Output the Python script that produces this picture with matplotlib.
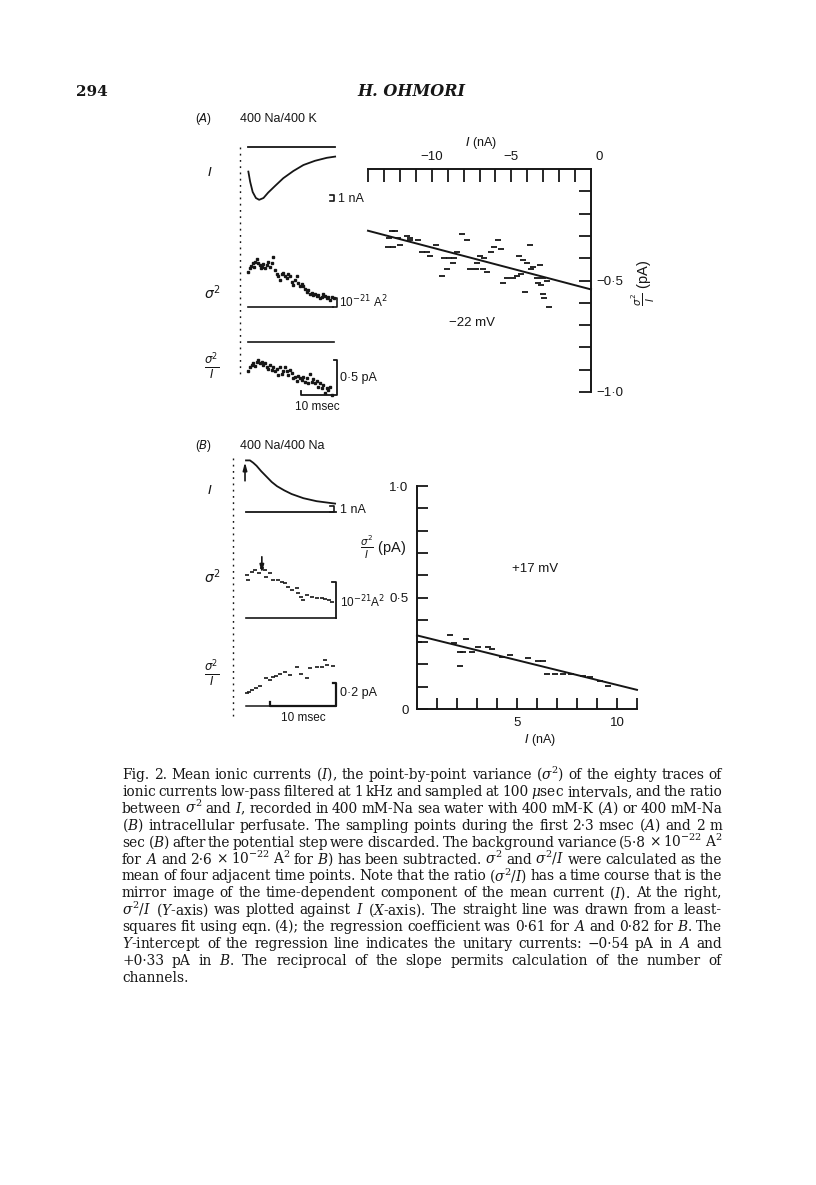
import matplotlib
matplotlib.use('Agg')
import matplotlib.pyplot as plt
import matplotlib.transforms as mtrans
import numpy as np

# ---------------- data ----------------
# Panel A (400 Na / 400 K), -22 mV : left traces (time in msec)
tA_I = [0.1, 0.6, 1.3, 2.2, 3.1, 4.3, 5.6, 7.5, 9.8, 12.6, 15.4, 18.6, 21.9, 24.2]
IA = [-4.1, -5.8, -7.5, -8.5, -8.8, -8.5, -7.6, -6.5, -5.2, -4.0, -3.0, -2.3, -1.8, -1.6]

tA_var = [0.1, 0.6, 0.8, 1.3, 1.7, 1.9, 2.4, 2.9, 3.3, 3.5, 4.0, 4.3, 4.7, 5.2, 5.6, 6.1, 6.6, 7.0,
          7.5, 8.0, 8.4, 8.9, 9.4, 9.8, 10.3, 10.7, 11.2, 11.7, 12.1, 12.6, 13.1, 13.5, 14.0, 14.4,
          14.9, 15.4, 15.8, 16.3, 16.8, 17.2, 17.7, 18.1, 18.6, 19.1, 19.5, 20.0, 20.5, 20.9, 21.4,
          21.9, 22.3, 22.8, 23.3, 23.9]
varA = [3.9, 4.3, 4.6, 4.9, 4.5, 5.0, 5.3, 4.9, 4.7, 4.3, 4.4, 4.8, 4.3, 4.7, 5.0, 4.5, 4.9, 5.6,
        4.1, 3.7, 3.4, 3.0, 3.7, 3.8, 3.4, 3.2, 3.7, 3.4, 2.8, 2.4, 3.0, 3.4, 2.7, 2.3, 2.6, 2.3,
        2.0, 1.7, 1.9, 1.5, 1.6, 1.3, 1.4, 1.2, 1.3, 1.0, 1.1, 1.4, 1.2, 1.0, 1.1, 0.8, 1.1, 1.0]

tA_ratio = [0.1, 0.6, 1.0, 1.5, 1.9, 2.4, 2.9, 3.3, 3.8, 4.3, 4.7, 5.2, 5.6, 6.1, 6.6, 7.0, 7.5,
            8.0, 8.4, 8.9, 9.4, 9.8, 10.3, 10.7, 11.2, 11.7, 12.1, 12.6, 13.1, 13.5, 14.0, 14.4,
            14.9, 15.4, 15.8, 16.3, 16.8, 17.2, 17.7, 18.1, 18.6, 19.1, 19.5, 20.0, 20.5, 20.9,
            21.4, 21.9, 22.3, 22.8, 23.3]
ratioA = [-0.42, -0.36, -0.33, -0.30, -0.34, -0.28, -0.26, -0.30, -0.28, -0.33, -0.30, -0.35,
          -0.38, -0.33, -0.40, -0.36, -0.42, -0.39, -0.47, -0.35, -0.45, -0.41, -0.36, -0.42,
          -0.47, -0.40, -0.44, -0.52, -0.50, -0.55, -0.49, -0.52, -0.54, -0.50, -0.57, -0.52,
          -0.59, -0.45, -0.57, -0.53, -0.59, -0.55, -0.64, -0.58, -0.65, -0.61, -0.73, -0.66,
          -0.69, -0.64, -0.76]

# Panel A right: sigma^2/I (pA) against I (nA)
xA = [-12.51, -12.31, -12.66, -12.10, -11.57, -11.36, -12.72, -12.45, -11.99, -11.36, -10.84,
      -10.63, -10.30, -10.11, -9.73, -9.38, -9.06, -9.20, -8.90, -8.60, -8.69, -8.43, -8.10,
      -7.81, -7.60, -7.20, -6.80, -7.18, -6.97, -6.72, -6.51, -6.30, -6.07, -5.86, -5.63, -5.50,
      -5.30, -4.92, -4.67, -4.40, -4.50, -4.25, -4.14, -4.04, -3.83, -3.79, -3.62, -3.41, -3.31,
      -3.20, -3.14, -3.04, -2.99, -2.93, -2.78, -2.62]
yA = [-0.28, -0.28, -0.31, -0.31, -0.30, -0.31, -0.35, -0.35, -0.34, -0.32, -0.32, -0.37, -0.37,
      -0.39, -0.34, -0.48, -0.45, -0.40, -0.40, -0.40, -0.42, -0.37, -0.29, -0.32, -0.45, -0.45,
      -0.45, -0.42, -0.39, -0.40, -0.46, -0.37, -0.35, -0.32, -0.36, -0.51, -0.49, -0.49, -0.48,
      -0.47, -0.39, -0.41, -0.55, -0.42, -0.34, -0.45, -0.44, -0.49, -0.51, -0.43, -0.52, -0.49,
      -0.56, -0.58, -0.50, -0.62]
fitA_intercept = -0.54
fitA_slope = -0.0188

# Panel B (400 Na / 400 Na), +17 mV : left traces
tB_I = [0.0, 0.6, 1.1, 1.6, 2.3, 3.1, 3.9, 4.7, 5.8, 6.9, 8.7, 10.7, 13.5]
IB = [8.6, 8.6, 8.2, 7.7, 6.8, 5.9, 5.0, 4.3, 3.6, 3.0, 2.3, 1.8, 1.4]

tB_var = [0.1, 0.35, 0.9, 1.4, 1.9, 2.4, 2.9, 3.1, 3.6, 4.1, 4.9, 5.4, 5.9, 6.4, 6.9, 7.7, 7.9,
          8.4, 8.7, 9.2, 10.0, 10.7, 11.5, 12.0, 12.5, 13.0]
varB = [1.19, 1.06, 1.29, 1.33, 1.24, 1.38, 1.33, 1.15, 1.24, 1.06, 1.06, 1.01, 0.96, 0.87, 0.78,
        0.82, 0.70, 0.59, 0.50, 0.64, 0.59, 0.55, 0.55, 0.52, 0.50, 0.45]

tB_ratio = [0.1, 0.4, 0.9, 1.5, 2.1, 3.1, 3.6, 4.1, 4.6, 5.2, 5.9, 6.7, 7.7, 8.4, 9.2, 9.7, 10.7,
            11.5, 12.0, 12.2, 13.2]
ratioB = [0.11, 0.12, 0.14, 0.16, 0.17, 0.24, 0.23, 0.25, 0.26, 0.28, 0.30, 0.27, 0.34, 0.28,
          0.24, 0.33, 0.34, 0.34, 0.40, 0.36, 0.35]

# Panel B right
xB = [0.1, 1.65, 1.85, 2.45, 2.15, 2.32, 2.73, 2.15, 3.07, 3.57, 3.73, 4.23, 4.65, 5.57, 6.07,
      6.32, 6.5, 6.9, 7.3, 7.7, 8.32, 8.65, 9.15, 9.57]
yB = [0.30, 0.33, 0.295, 0.314, 0.254, 0.256, 0.254, 0.193, 0.277, 0.277, 0.268, 0.235, 0.243,
      0.230, 0.216, 0.216, 0.157, 0.157, 0.157, 0.157, 0.148, 0.142, 0.127, 0.103]
fitB_intercept = 0.33
fitB_slope = -0.0222

discardA = 2.3   # msec discarded after the step (A)
discardB = 2.0   # msec discarded after the step (B)

caption_lines = [
    r"Fig. 2. Mean ionic currents ($I$), the point-by-point variance ($\sigma^2$) of the eighty traces of",
    r"ionic currents low-pass filtered at 1 kHz and sampled at 100 $\mu$sec intervals, and the ratio",
    r"between $\sigma^2$ and $I$, recorded in 400 mM-Na sea water with 400 mM-K ($A$) or 400 mM-Na",
    r"($B$) intracellular perfusate. The sampling points during the first 2·3 msec ($A$) and 2 m",
    r"sec ($B$) after the potential step were discarded. The background variance (5·8 × 10$^{-22}$ A$^2$",
    r"for $A$ and 2·6 × 10$^{-22}$ A$^2$ for $B$) has been subtracted. $\sigma^2$ and $\sigma^2/I$ were calculated as the",
    r"mean of four adjacent time points. Note that the ratio ($\sigma^2/I$) has a time course that is the",
    r"mirror image of the time-dependent component of the mean current ($I$). At the right,",
    r"$\sigma^2/I$ ($Y$-axis) was plotted against $I$ ($X$-axis). The straight line was drawn from a least-",
    r"squares fit using eqn. (4); the regression coefficient was 0·61 for $A$ and 0·82 for $B$. The",
    r"$Y$-intercept of the regression line indicates the unitary currents: −0·54 pA in $A$ and",
    r"+0·33 pA in $B$. The reciprocal of the slope permits calculation of the number of",
    r"channels.",
]

# ---------------- figure ----------------
W, H = 816, 1185
INK = '#161616'
SANS = ['Liberation Sans', 'DejaVu Sans']
SERIF = ['DejaVu Serif']

fig = plt.figure(figsize=(W / 100, H / 100), dpi=100)
fig.patch.set_facecolor('white')
page = fig.add_axes([0, 0, 1, 1])
page.set_xlim(0, W)
page.set_ylim(H, 0)
page.axis('off')


def px_axes(x0, y0, x1, y1):
    ax = fig.add_axes([x0 / W, 1 - y1 / H, (x1 - x0) / W, (y1 - y0) / H])
    ax.patch.set_alpha(0)
    return ax


def trace_axes(x0, x1, y0, y1, t_px0, px_per_t, zero_px, px_per_u):
    ax = px_axes(x0, y0, x1, y1)
    ax.set_xlim((x0 - t_px0) / px_per_t, (x1 - t_px0) / px_per_t)
    ax.set_ylim((zero_px - y1) / px_per_u, (zero_px - y0) / px_per_u)
    ax.axis('off')
    return ax


def txt(x, y, s, size=9, ha='left', va='center', **kw):
    kw.setdefault('family', SANS)
    kw.setdefault('color', INK)
    return page.text(x, y, s, fontsize=size, ha=ha, va=va, **kw)


lw_tr = 1.3
lw_ax = 1.4

# ---- header ----
txt(76, 92, '294', size=11, family=SERIF, weight='bold')
txt(411, 92, 'H. OHMORI', size=11.5, ha='center', family=SERIF, weight='bold', style='italic')

# ================= PANEL A =================
txt(195, 119, r'($\mathit{A}$)', size=8.5)
txt(240, 119, '400 Na/400 K', size=9)
tA_end = 24.3
aI = trace_axes(200, 350, 140, 210, 248, 3.6, 147, 6.0)
aI.plot(tA_I, IA, color=INK, lw=lw_tr, clip_on=False)
aI.plot([0, tA_end], [0, 0], color=INK, lw=1.3, clip_on=False)
aI.plot([tA_end - 1.5, tA_end - 0.4, tA_end - 0.4, tA_end - 1.5], [-8, -8, -9, -9],
        color=INK, lw=1.2, clip_on=False)

aV = trace_axes(200, 350, 255, 312, 248, 3.6, 307, 9.0)
aV.plot(tA_var, varA, ls='none', marker='s', ms=1.6, color=INK, clip_on=False)
aV.plot([0, tA_end - 0.6], [0, 0], color=INK, lw=1.2, clip_on=False)
aV.plot([tA_end - 0.6, tA_end + 0.3, tA_end + 0.3, tA_end - 0.6], [0, 0, 1, 1],
        color=INK, lw=1.2, clip_on=False)

aR = trace_axes(200, 350, 336, 400, 248, 3.6, 342, 70.0)
aR.plot(tA_ratio, ratioA, ls='none', marker='s', ms=1.6, color=INK, clip_on=False)
aR.plot([0, tA_end - 0.3], [0, 0], color=INK, lw=1.2, clip_on=False)
aR.plot([tA_end - 0.5, tA_end + 0.3, tA_end + 0.3, tA_end + 0.3 - 10, tA_end + 0.3 - 10],
        [-0.26, -0.26, -0.76, -0.76, -0.70], color=INK, lw=1.3, clip_on=False)

trA = mtrans.blended_transform_factory(aI.transData, page.transData)
page.plot([-discardA, -discardA], [147, 378], transform=trA, color=INK, lw=1.0,
          ls=(0, (1.3, 3.2)))

txt(210, 172, r'$\mathit{I}$', size=9.5, ha='center')
txt(212, 293, r'$\sigma^2$', size=10, ha='center')
txt(212, 366, r'$\frac{\sigma^2}{I}$', size=12, ha='center')
txt(338, 199, '1 nA', size=9)
txt(339, 302, r'10$^{-21}$ A$^2$', size=8.5)
txt(340, 378, '0·5 pA', size=9)
txt(317, 407, '10 msec', size=8.5, ha='center')

# right plot A
axA = px_axes(368, 169, 591, 392)
axA.set_xlim(-14, 0)
axA.set_ylim(-1.0, 0)
for s in ['left', 'bottom']:
    axA.spines[s].set_visible(False)
for s in ['top', 'right']:
    axA.spines[s].set_linewidth(lw_ax)
    axA.spines[s].set_color(INK)
axA.xaxis.set_ticks_position('top')
axA.yaxis.set_ticks_position('right')
axA.set_xticks([-10, -5])
axA.set_xticklabels(['−10', '−5'])
axA.set_xticks(np.arange(-14, 0, 1), minor=True)
axA.set_yticks([-0.5, -1.0])
axA.set_yticklabels(['−0·5', '−1·0'])
axA.set_yticks(np.arange(-0.9, 0, 0.1), minor=True)
axA.tick_params(which='both', direction='in', length=9, width=1.3, color=INK, pad=4,
                labelsize=9.5, labelcolor=INK)
for lab in axA.get_xticklabels() + axA.get_yticklabels():
    lab.set_family(SANS)
axA.plot(xA, yA, ls='none', marker='_', ms=5, mew=1.3, color=INK)
fx = np.array(axA.get_xlim())
axA.plot(fx, fitA_intercept + fitA_slope * fx, color=INK, lw=1.4, clip_on=False)
txt(599, 157, '0', size=9.5, ha='center')
txt(481, 143, r'$\mathit{I}$ (nA)', size=9, ha='center')
txt(472, 323, '−22 mV', size=9.5, ha='center')
txt(643, 283, r'$\frac{\sigma^2}{I}$ (pA)', size=10.5, ha='center', rotation=90)

# ================= PANEL B =================
txt(195, 446, r'($\mathit{B}$)', size=8.5)
txt(240, 446, '400 Na/400 Na', size=9)
tB_end = 13.6
bI = trace_axes(200, 350, 452, 515, 246, 6.6, 512, 6.0)
bI.plot(tB_I, IB, color=INK, lw=lw_tr, clip_on=False)
bI.plot([0, tB_end], [0, 0], color=INK, lw=1.3, clip_on=False)
bI.plot([tB_end - 0.9, tB_end - 0.2, tB_end - 0.2, tB_end - 0.9], [1, 1, 0, 0],
        color=INK, lw=1.2, clip_on=False)
bI.annotate('', xy=(-0.15, 8.3), xytext=(-0.15, 5.2),
            arrowprops=dict(arrowstyle='-|>,head_width=0.12,head_length=0.45', lw=1.2,
                            color=INK, shrinkA=0, shrinkB=0))

bV = trace_axes(200, 350, 548, 622, 246, 6.6, 618, 36.0)
bV.plot(tB_var, varB, ls='none', marker='_', ms=3, mew=1.2, color=INK, clip_on=False)
bV.plot([0, tB_end], [0, 0], color=INK, lw=1.2, clip_on=False)
bV.plot([tB_end - 0.5, tB_end, tB_end], [1, 1, 0], color=INK, lw=1.3, clip_on=False)
bV.annotate('', xy=(2.4, 1.25), xytext=(2.4, 1.70),
            arrowprops=dict(arrowstyle='-|>,head_width=0.12,head_length=0.45', lw=1.2,
                            color=INK, shrinkA=0, shrinkB=0))

bR = trace_axes(200, 350, 650, 712, 246, 6.6, 706, 115.0)
bR.plot(tB_ratio, ratioB, ls='none', marker='_', ms=3, mew=1.2, color=INK, clip_on=False)
bR.plot([0, tB_end], [0, 0], color=INK, lw=1.1, clip_on=False)
bR.plot([tB_end - 10, tB_end - 10, tB_end, tB_end, tB_end - 0.4], [0.035, 0, 0, 0.2, 0.2],
        color=INK, lw=1.6, clip_on=False)

trB = mtrans.blended_transform_factory(bI.transData, page.transData)
page.plot([-discardB, -discardB], [458, 716], transform=trB, color=INK, lw=1.0,
          ls=(0, (1.3, 3.2)))

txt(210, 490, r'$\mathit{I}$', size=9.5, ha='center')
txt(212, 577, r'$\sigma^2$', size=10, ha='center')
txt(212, 673, r'$\frac{\sigma^2}{I}$', size=12, ha='center')
txt(340, 510, '1 nA', size=9)
txt(340, 602, r'10$^{-21}$A$^2$', size=8.5)
txt(340, 693, '0·2 pA', size=9)
txt(303, 718, '10 msec', size=8.5, ha='center')

# right plot B
axB = px_axes(417, 486, 637, 709)
axB.set_xlim(0, 11)
axB.set_ylim(0, 1.0)
for s in ['right', 'top']:
    axB.spines[s].set_visible(False)
for s in ['left', 'bottom']:
    axB.spines[s].set_linewidth(lw_ax)
    axB.spines[s].set_color(INK)
axB.set_xticks([5, 10])
axB.set_xticklabels(['5', '10'])
axB.set_xticks(np.arange(1, 12, 1), minor=True)
axB.set_yticks([0, 0.5, 1.0])
axB.set_yticklabels(['0', '0·5', '1·0'])
axB.set_yticks(np.arange(0.1, 1.0, 0.1), minor=True)
axB.tick_params(which='both', direction='in', length=8, width=1.3, color=INK, pad=6,
                labelsize=9.5, labelcolor=INK)
for lab in axB.get_xticklabels() + axB.get_yticklabels():
    lab.set_family(SANS)
axB.plot(xB, yB, ls='none', marker='_', ms=5, mew=1.3, color=INK, clip_on=False)
fxb = np.array(axB.get_xlim())
axB.plot(fxb, fitB_intercept + fitB_slope * fxb, color=INK, lw=1.4, clip_on=False)
txt(383, 547, r'$\frac{\sigma^2}{I}$ (pA)', size=10.5, ha='center')
txt(535, 569, '+17 mV', size=9.5, ha='center')
txt(540, 740, r'$\mathit{I}$ (nA)', size=9, ha='center')

# ================= caption (justified) =================
cap_x0, cap_x1 = 122, 722
cap_y0, cap_dy = 779, 16.9
renderer = fig.canvas.get_renderer()


def make_words(fs):
    rows = []
    for i, line in enumerate(caption_lines):
        words = line.split(' ')
        y = cap_y0 + i * cap_dy
        tx = [page.text(0, y, w, fontsize=fs, family=SERIF, math_fontfamily='dejavuserif',
                        ha='left', va='baseline', color=INK) for w in words]
        rows.append(tx)
    return rows


probe_fs = 10.0
rows = make_words(probe_fs)
sp_min = 0.17 * probe_fs * 100 / 72
scale = 10.0
for tx in rows[:-1]:
    wsum = sum(t.get_window_extent(renderer).width for t in tx)
    need = wsum + sp_min * (len(tx) - 1)
    scale = min(scale, (cap_x1 - cap_x0) / need)
for tx in rows:
    for t in tx:
        t.remove()
cap_fs = probe_fs * scale
rows = make_words(cap_fs)
for i, tx in enumerate(rows):
    widths = [t.get_window_extent(renderer).width for t in tx]
    if i < len(rows) - 1 and len(tx) > 1:
        gap = (cap_x1 - cap_x0 - sum(widths)) / (len(tx) - 1)
    else:
        gap = 4.0
    x = cap_x0
    for t, wd in zip(tx, widths):
        t.set_x(x)
        x += wd + gap

fig.savefig('out.png', dpi=100, facecolor='white')
